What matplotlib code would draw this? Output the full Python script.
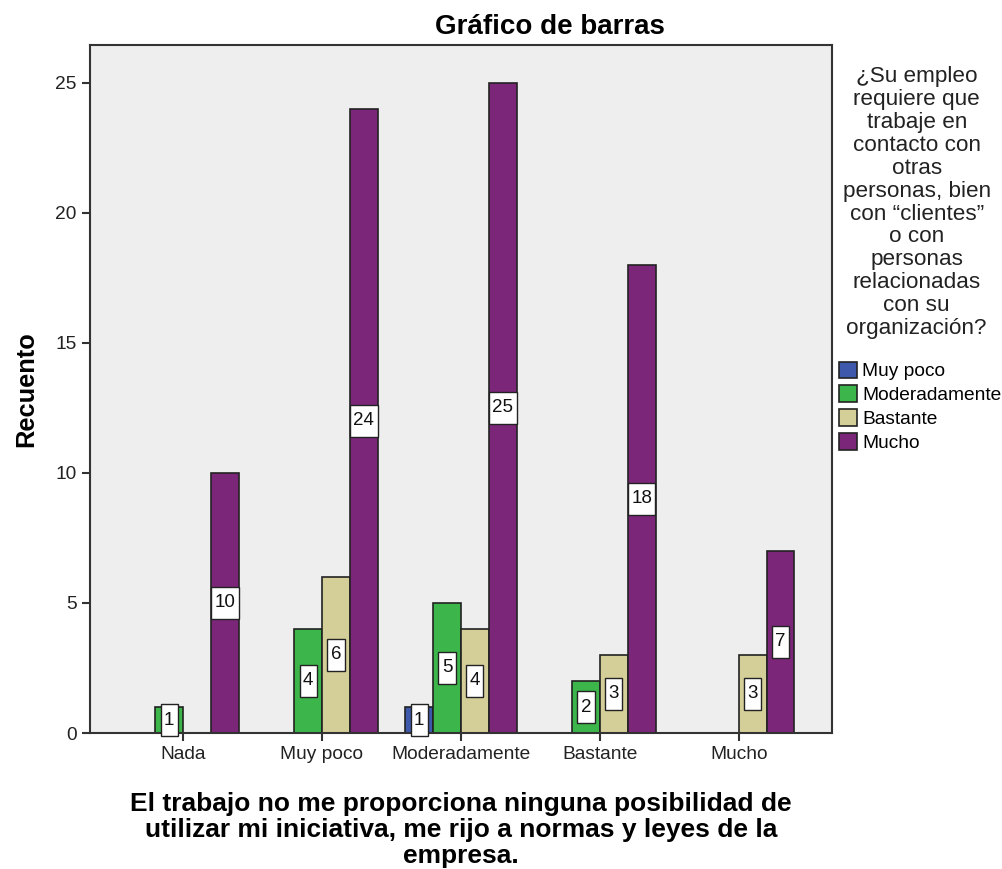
import numpy as np
import matplotlib.pyplot as plt
from matplotlib.path import Path

plt.rcParams['font.family'] = ['Liberation Sans', 'DejaVu Sans']

# Data
categories = ['Nada', 'Muy poco', 'Moderadamente', 'Bastante', 'Mucho']
series_names = ['Muy poco', 'Moderadamente', 'Bastante', 'Mucho']
muy_poco = [0, 0, 1, 0, 0]
moderadamente = [1, 4, 5, 2, 0]
bastante = [0, 6, 4, 3, 3]
mucho = [10, 24, 25, 18, 7]
series_values = [muy_poco, moderadamente, bastante, mucho]
colors = ['#3e58ac', '#3cb64a', '#d4cf98', '#7b2679']

legend_title = ('¿Su empleo\nrequiere que\ntrabaje en\ncontacto con\notras\n'
                'personas, bien\ncon “clientes”\no con\npersonas\nrelacionadas\n'
                'con su\norganización?')
xlabel = ('El trabajo no me proporciona ninguna posibilidad de\n'
          'utilizar mi iniciativa, me rijo a normas y leyes de la\nempresa.')


def tall_box(x0, y0, width, height, mutation_size):
    """Label box with more vertical than horizontal padding."""
    padx = 0.18 * mutation_size
    pady = 0.42 * mutation_size
    x0, y0 = x0 - padx, y0 - pady
    x1, y1 = x0 + width + 2 * padx, y0 + height + 2 * pady
    return Path([(x0, y0), (x1, y0), (x1, y1), (x0, y1), (x0, y0)],
                closed=True)


def plot_chart():
    fig = plt.figure(figsize=(10.03, 8.69), dpi=100)
    ax = fig.add_axes([0.0897, 0.1565, 0.7398, 0.7917])
    ax.set_facecolor('#eeeeee')

    x = np.arange(len(categories))
    width = 0.2
    offsets = (np.arange(len(series_names)) - 1.5) * width

    handles = []
    for name, vals, col, off in zip(series_names, series_values, colors, offsets):
        vals = np.array(vals, dtype=float)
        mask = vals > 0
        bars = ax.bar(x[mask] + off, vals[mask], width, color=col,
                      edgecolor='#222222', linewidth=1.2, label=name)
        handles.append(bars)
        for xi, v in zip(x[mask] + off, vals[mask]):
            ax.text(xi, v / 2, f'{int(v)}', ha='center', va='center',
                    fontsize=13.5, color='#111111',
                    bbox=dict(boxstyle=tall_box, fc='white',
                              ec='#222222', lw=1))

    ax.set_xlim(-0.67, 4.67)
    ax.set_ylim(0, 26.46)
    ax.set_yticks([0, 5, 10, 15, 20, 25])
    ax.set_xticks(x)
    ax.set_xticklabels(categories)
    ax.tick_params(axis='both', direction='out', length=6, width=1.5,
                   color='#333333', labelsize=13.8, labelcolor='#222222')
    for s in ax.spines.values():
        s.set_color('#333333')
        s.set_linewidth(1.5)

    fig.text(550 / 1003, 1 - 27 / 869, 'Gráfico de barras', ha='center',
             va='center', fontsize=20, fontweight='bold')
    ax.set_ylabel('Recuento', fontsize=18.3, fontweight='bold', labelpad=12)
    ax.set_xlabel(xlabel, fontsize=19, fontweight='bold', linespacing=1.1,
                  labelpad=21)

    fig.text(0.914, 0.924, legend_title, ha='center', va='top', fontsize=16.2,
             linespacing=1.12, color='#222222')
    fig.legend(handles=handles, labels=series_names, loc='upper left',
               bbox_to_anchor=(0.836, 0.584), frameon=False, fontsize=13.8,
               handlelength=0.95, handleheight=0.95, handletextpad=0.3,
               labelspacing=0.26, borderaxespad=0, borderpad=0)

    fig.savefig('out.png', dpi=100)


if __name__ == "__main__":
    plot_chart()
